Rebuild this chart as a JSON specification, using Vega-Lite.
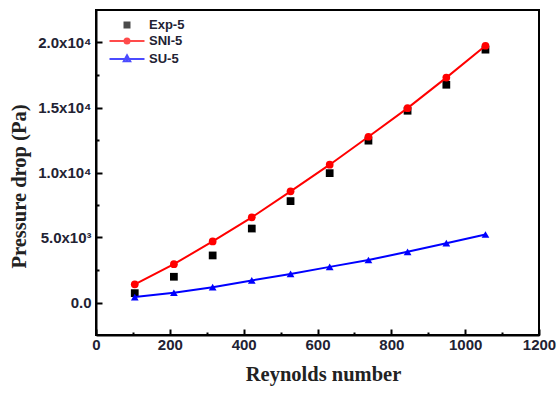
{
  "$schema": "https://vega.github.io/schema/vega-lite/v6.json",
  "width": 443,
  "height": 325,
  "autosize": {"type": "none"},
  "padding": {"left": 96, "top": 10, "right": 21, "bottom": 62},
  "background": "white",
  "config": {
    "view": {"stroke": "black", "strokeWidth": 2},
    "axis": {
      "domainColor": "black", "domainWidth": 2, "tickColor": "black", "tickWidth": 2,
      "grid": false, "labelFont": "Liberation Sans", "labelFontWeight": "bold", "labelFontSize": 15,
      "labelColor": "#222233", "titleFont": "Liberation Serif", "titleFontWeight": "bold",
      "titleFontSize": 20.5, "titleColor": "#222222", "labelFlush": false, "labelOverlap": false
    },
    "legend": {
      "orient": "none", "legendX": 24.5, "legendY": 8.5, "padding": 0,
      "symbolSize": 100, "symbolStrokeWidth": 2, "rowPadding": 2, "labelOffset": 15.5,
      "labelFont": "Liberation Sans", "labelFontWeight": "bold", "labelFontSize": 13, "labelColor": "#222233"
    }
  },
  "data": {
    "values": [
      {"Re": 105, "dp": 720, "series": "Exp-5"},
      {"Re": 211, "dp": 1980, "series": "Exp-5"},
      {"Re": 316, "dp": 3620, "series": "Exp-5"},
      {"Re": 422, "dp": 5690, "series": "Exp-5"},
      {"Re": 527, "dp": 7800, "series": "Exp-5"},
      {"Re": 633, "dp": 9950, "series": "Exp-5"},
      {"Re": 738, "dp": 12450, "series": "Exp-5"},
      {"Re": 844, "dp": 14750, "series": "Exp-5"},
      {"Re": 949, "dp": 16750, "series": "Exp-5"},
      {"Re": 1055, "dp": 19450, "series": "Exp-5"},
      {"Re": 105, "dp": 1400, "series": "SNI-5"},
      {"Re": 211, "dp": 2950, "series": "SNI-5"},
      {"Re": 316, "dp": 4700, "series": "SNI-5"},
      {"Re": 422, "dp": 6550, "series": "SNI-5"},
      {"Re": 527, "dp": 8550, "series": "SNI-5"},
      {"Re": 633, "dp": 10600, "series": "SNI-5"},
      {"Re": 738, "dp": 12750, "series": "SNI-5"},
      {"Re": 844, "dp": 14950, "series": "SNI-5"},
      {"Re": 949, "dp": 17300, "series": "SNI-5"},
      {"Re": 1055, "dp": 19750, "series": "SNI-5"},
      {"Re": 105, "dp": 420, "series": "SU-5"},
      {"Re": 211, "dp": 750, "series": "SU-5"},
      {"Re": 316, "dp": 1180, "series": "SU-5"},
      {"Re": 422, "dp": 1700, "series": "SU-5"},
      {"Re": 527, "dp": 2200, "series": "SU-5"},
      {"Re": 633, "dp": 2740, "series": "SU-5"},
      {"Re": 738, "dp": 3270, "series": "SU-5"},
      {"Re": 844, "dp": 3900, "series": "SU-5"},
      {"Re": 949, "dp": 4560, "series": "SU-5"},
      {"Re": 1055, "dp": 5230, "series": "SU-5"}
    ]
  },
  "layer": [
    {
      "mark": {"type": "point", "filled": true, "opacity": 1, "size": 60},
      "encoding": {
        "x": {"field": "Re", "type": "quantitative",
          "scale": {"domain": [0, 1200], "nice": false, "zero": false},
          "axis": {"orient": "bottom", "values": [0, 200, 400, 600, 800, 1000, 1200], "format": "d", "tickSize": -6, "labelPadding": 8,
            "title": "Reynolds number", "titlePadding": 12, "titleX": 227}},
        "y": {"field": "dp", "type": "quantitative",
          "scale": {"domain": [-2500, 22500], "nice": false, "zero": false},
          "axis": {"orient": "left", "values": [0, 5000, 10000, 15000, 20000], "tickSize": -6, "labelPadding": 11,
            "labelExpr": "datum.value == 0 ? '0.0' : datum.value < 10000 ? format(datum.value/1000, '.1f') + 'x10³' : format(datum.value/10000, '.1f') + 'x10⁴'",
            "title": "Pressure drop (Pa)", "titlePadding": 8, "titleY": 176}},
        "color": {"field": "series", "type": "nominal",
          "scale": {"domain": ["Exp-5", "SNI-5", "SU-5"], "range": ["black", "#ff0000", "#0000ff"]},
          "legend": null},
        "shape": {"field": "series", "type": "nominal",
          "scale": {"domain": ["Exp-5", "SNI-5", "SU-5"], "range": ["square", "circle", "triangle-up"]},
          "legend": null}
      }
    },
    {
      "transform": [{"filter": "datum.series != 'Exp-5'"}],
      "mark": {"type": "line", "strokeWidth": 2},
      "encoding": {
        "x": {"field": "Re", "type": "quantitative",
          "axis": {"orient": "bottom", "values": [100, 300, 500, 700, 900, 1100], "tickSize": -3, "labels": false, "domain": false, "title": null}},
        "y": {"field": "dp", "type": "quantitative",
          "axis": {"orient": "left", "values": [2500, 7500, 12500, 17500], "tickSize": -3, "labels": false, "domain": false, "title": null}},
        "color": {"field": "series", "type": "nominal",
          "scale": {"domain": ["Exp-5", "SNI-5", "SU-5"], "range": ["black", "#ff0000", "#0000ff"]},
          "legend": null}
      }
    },
    {
      "transform": [{"filter": "false"}],
      "mark": {"type": "point", "filled": false},
      "encoding": {
        "x": {"field": "Re", "type": "quantitative", "axis": null},
        "y": {"field": "dp", "type": "quantitative", "axis": null},
        "color": {"field": "series", "type": "nominal",
          "scale": {"domain": ["Exp-5", "SNI-5", "SU-5"], "range": ["black", "#ff0000", "#0000ff"]},
          "legend": {"title": null}},
        "shape": {"field": "series", "type": "nominal",
          "scale": {"domain": ["Exp-5", "SNI-5", "SU-5"],
            "range": ["M-0.5,-0.5H0.5V0.5H-0.5ZM-0.1,-0.1H0.1V0.1H-0.1Z", "M-3.5,0H3.5M0.5,0A0.5,0.5,0,1,1,-0.5,0A0.5,0.5,0,1,1,0.5,0ZM0,-0.3V0.3", "M-3.5,0H3.5M0,-0.75L0.65,0.45H-0.65ZM0,-0.4V0.3"]},
          "legend": {"title": null}}
      }
    }
  ],
  "resolve": {
    "axis": {"x": "independent", "y": "independent"},
    "scale": {"shape": "independent", "color": "independent"},
    "legend": {"shape": "independent", "color": "independent"}
  }
}
